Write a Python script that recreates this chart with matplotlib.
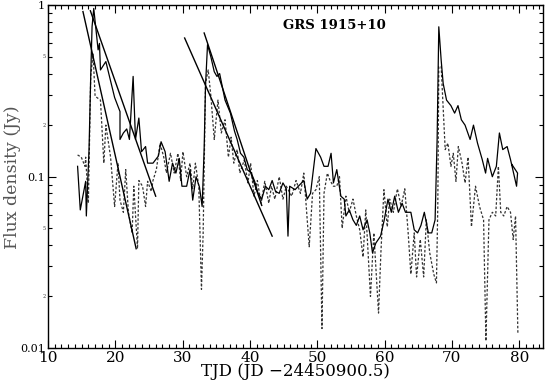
import matplotlib
matplotlib.use("Agg")
import matplotlib.pyplot as plt
from matplotlib.ticker import FixedLocator, NullFormatter, LogLocator

# solid series (TJD, Jy)
solid_t = [14.4, 14.8, 15.6, 15.7, 16.1, 16.35, 16.55, 16.8, 17.45, 17.65, 17.8, 18.6,
           19.9, 20.7, 20.7, 21.2, 21.7, 22.1, 22.65, 23.0, 23.5, 23.9, 24.5, 24.8,
           25.6, 26.4, 26.8, 27.4, 28.0, 28.5, 29.0, 29.5, 29.9, 30.6, 31.1, 31.5,
           32.0, 32.5, 32.9, 33.2, 33.4, 33.7, 34.2, 34.7, 35.1, 35.5, 36.3, 37.1,
           37.7, 38.1, 38.6, 39.1, 39.6, 40.2, 40.7, 41.2, 41.75, 42.3, 42.8, 43.3,
           43.8, 44.35, 44.9, 45.4, 45.65, 45.9, 46.7, 47.2, 48.0, 48.5, 49.0, 49.8,
           50.5, 51.0, 51.6, 52.05, 52.4, 52.9, 53.5, 54.0, 54.25, 54.75, 55.3, 55.8,
           56.3, 56.8, 57.4, 57.8, 58.2, 58.7, 59.4, 59.95, 60.5, 61.0, 61.5, 62.05,
           62.6, 63.1, 63.9, 64.4, 64.9, 65.4, 65.9, 66.5, 67.0, 67.5, 67.8, 68.05,
           68.4, 68.7, 69.2, 69.85, 70.4, 70.9, 71.4, 71.95, 72.7, 73.2, 73.8, 74.5,
           75.0, 75.3, 76.0, 76.6, 77.05, 77.55, 78.2, 78.7, 79.6, 79.75, 78.9]
solid_f = [0.115, 0.064, 0.094, 0.059, 0.144, 0.385, 0.75, 0.96, 0.55, 0.60, 0.42, 0.47,
           0.29, 0.24, 0.165, 0.18, 0.19, 0.165, 0.385, 0.165, 0.22, 0.14, 0.15, 0.12,
           0.12, 0.132, 0.16, 0.14, 0.094, 0.12, 0.105, 0.128, 0.088, 0.088, 0.11, 0.073,
           0.10, 0.087, 0.067, 0.146, 0.34, 0.59, 0.50, 0.41, 0.385, 0.40, 0.28, 0.235,
           0.185, 0.165, 0.137, 0.13, 0.11, 0.105, 0.094, 0.08, 0.074, 0.088, 0.084, 0.095,
           0.082, 0.08, 0.092, 0.085, 0.045, 0.088, 0.084, 0.088, 0.095, 0.074, 0.08, 0.146,
           0.13, 0.115, 0.115, 0.137, 0.092, 0.11, 0.077, 0.074, 0.059, 0.064, 0.056, 0.052,
           0.059, 0.049, 0.056, 0.047, 0.036, 0.041, 0.045, 0.056, 0.074, 0.062, 0.077, 0.062,
           0.07, 0.062, 0.062, 0.049, 0.047, 0.052, 0.062, 0.047, 0.047, 0.056, 0.165, 0.75,
           0.48, 0.35, 0.28, 0.26, 0.235, 0.26, 0.215, 0.20, 0.165, 0.20, 0.157, 0.126,
           0.105, 0.128, 0.10, 0.115, 0.18, 0.144, 0.15, 0.126, 0.088, 0.105, 0.118]

# dotted series (TJD, Jy)
dot_t = [14.4, 14.95, 15.5, 15.6, 16.0, 16.35, 16.7, 17.0, 17.8, 18.3, 18.6, 19.3,
         19.9, 20.4, 20.7, 21.2, 21.55, 21.95, 22.5, 22.75, 23.3, 23.5, 24.05, 24.5,
         24.8, 25.35, 25.6, 26.1, 26.65, 27.2, 27.6, 28.2, 28.75, 29.3, 29.7, 30.05,
         30.6, 31.1, 31.5, 31.9, 32.4, 32.8, 33.05, 33.4, 33.8, 34.2, 34.7, 35.25,
         35.75, 36.3, 36.8, 37.2, 37.6, 38.1, 38.5, 39.15, 39.7, 40.1, 40.6, 41.1,
         41.65, 42.2, 42.8, 43.2, 43.7, 44.35, 44.9, 45.4, 46.2, 46.85, 47.5, 48.0,
         48.8, 49.3, 49.8, 50.3, 50.7, 51.0, 51.5, 51.9, 52.4, 52.9, 53.3, 53.7,
         54.25, 54.75, 55.3, 55.8, 56.3, 56.8, 57.2, 57.9, 58.4, 59.1, 59.45, 59.9,
         60.4, 60.75, 61.3, 61.9, 62.45, 63.0, 63.5, 63.9, 64.4, 64.75, 65.3, 65.8,
         66.2, 66.7, 67.3, 67.7, 67.9, 68.05, 68.4, 68.8, 69.0, 69.4, 69.85, 70.2,
         70.6, 70.95, 71.5, 71.95, 72.4, 72.9, 73.5, 74.1, 74.7, 75.05, 75.5, 76.0,
         76.5, 76.9, 77.25, 77.7, 78.2, 78.7, 79.1, 79.45, 79.8]
dot_f = [0.134, 0.13, 0.115, 0.13, 0.07, 0.385, 0.52, 0.295, 0.28, 0.12, 0.20, 0.13,
         0.067, 0.12, 0.073, 0.062, 0.11, 0.062, 0.047, 0.088, 0.038, 0.095, 0.088, 0.067,
         0.094, 0.082, 0.095, 0.11, 0.157, 0.13, 0.105, 0.137, 0.105, 0.137, 0.095, 0.14,
         0.10, 0.12, 0.085, 0.12, 0.088, 0.022, 0.047, 0.35, 0.42, 0.295, 0.165, 0.28,
         0.18, 0.215, 0.13, 0.17, 0.12, 0.144, 0.105, 0.125, 0.092, 0.12, 0.077, 0.095,
         0.07, 0.094, 0.07, 0.088, 0.074, 0.10, 0.074, 0.088, 0.077, 0.095, 0.08, 0.105,
         0.039, 0.08, 0.084, 0.10, 0.013, 0.08, 0.105, 0.095, 0.088, 0.088, 0.10, 0.05,
         0.077, 0.062, 0.074, 0.059, 0.049, 0.034, 0.064, 0.020, 0.047, 0.016, 0.036, 0.084,
         0.051, 0.074, 0.062, 0.085, 0.067, 0.085, 0.047, 0.027, 0.047, 0.026, 0.043, 0.026,
         0.056, 0.036, 0.027, 0.024, 0.067, 0.44, 0.44, 0.205, 0.144, 0.157, 0.115, 0.137,
         0.094, 0.15, 0.12, 0.092, 0.13, 0.051, 0.088, 0.067, 0.056, 0.011, 0.056, 0.062,
         0.059, 0.115, 0.062, 0.059, 0.067, 0.062, 0.043, 0.059, 0.012]

# exponential decay fits: (t_start, f_start, t_end, f_end)
fit_t0 = [15.2, 16.3, 30.3, 33.2]
fit_f0 = [0.92, 0.93, 0.645, 0.69]
fit_t1 = [23.1, 26.0, 43.3, 41.75]
fit_f1 = [0.038, 0.077, 0.045, 0.068]

plt.rcParams["font.family"] = ["DejaVu Serif"]

fig = plt.figure(figsize=(5.45, 3.85), dpi=100)
ax = fig.add_axes([0.088, 0.096, 0.908, 0.89])

ax.plot(dot_t, dot_f, color="#333333", lw=0.9, ls=(0, (2.0, 1.5)))
ax.plot(solid_t, solid_f, color="black", lw=0.9)
for i in range(len(fit_t0)):
    ax.plot([fit_t0[i], fit_t1[i]], [fit_f0[i], fit_f1[i]], color="black", lw=1.0)

ax.set_yscale("log")
ax.set_xlim(10, 83.5)
ax.set_ylim(0.01, 1)

ax.set_xticks([10, 20, 30, 40, 50, 60, 70, 80])
ax.xaxis.set_minor_locator(FixedLocator(range(10, 84)))
ax.set_yticks([0.01, 0.1, 1])
ax.set_yticklabels(["0.01", "0.1", "1"])
ax.yaxis.set_minor_locator(LogLocator(base=10, subs=range(2, 10)))
ax.yaxis.set_minor_formatter(NullFormatter())
ax.tick_params(which="both", direction="in", top=True, right=True, width=0.8)
ax.tick_params(which="major", length=6)
ax.tick_params(which="minor", length=3)
ax.tick_params(axis="x", labelsize=11, pad=2)
ax.tick_params(axis="y", labelsize=8, pad=2)

# tiny minor labels on the y axis
for v, s in [(0.5, "5"), (0.2, "2"), (0.05, "5"), (0.02, "2")]:
    ax.text(-0.005, v, s, transform=ax.get_yaxis_transform(), fontsize=3.5,
            ha="right", va="center", color="#333333")

for sp in ax.spines.values():
    sp.set_linewidth(1.0)

ax.set_xlabel("TJD (JD \u221224450900.5)", fontsize=12, labelpad=-1)
ax.set_ylabel("Flux density (Jy)", fontsize=12.5, color="#555555")
ax.yaxis.set_label_coords(-0.054, 0.5)
ax.text(52.5, 0.76, "GRS 1915+10", fontsize=9.5, fontweight="bold", ha="center", va="center")

fig.savefig("out.png", dpi=100)
